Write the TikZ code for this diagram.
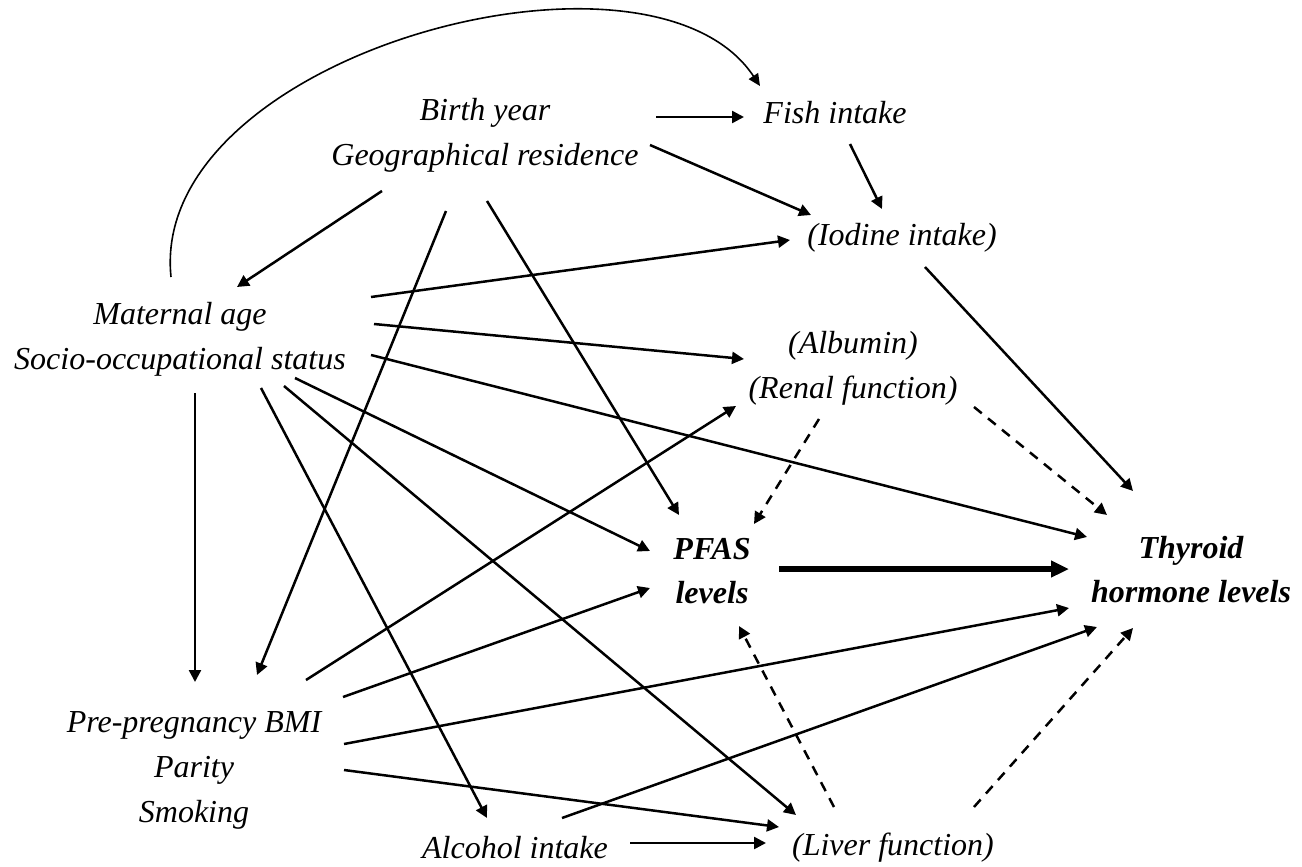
\documentclass[tikz,border=0pt]{standalone}
\usepackage{fontspec}
\setmainfont{Liberation Serif}
\usetikzlibrary{arrows.meta,calc}
\begin{document}
\begin{tikzpicture}[x=0.5pt,y=-0.5pt,
  lab/.style={align=center,inner sep=0pt,font=\fontsize{16}{22.5}\selectfont\itshape},
  blab/.style={align=center,inner sep=0pt,font=\fontsize{16}{22}\selectfont\bfseries\itshape},
  arr/.style={line width=1.25pt,-{Triangle[length=6pt,width=6pt]}},
  darr/.style={arr,dash pattern=on 5pt off 4pt},
  bigarr/.style={line width=3.2pt,-{Triangle[length=9pt,width=8pt]}},
  curvearr/.style={line width=0.8pt,-{Triangle[length=6pt,width=5.5pt]}}
]
\useasboundingbox (0,0) rectangle (1302,867);
% nodes
\node[lab] (by) at (485,135.5) {Birth year\\Geographical residence};
\node[lab] (fish) at (835,113) {Fish intake};
\node[lab] (iod) at (902,238) {(Iodine intake)};
\node[lab] (mat) at (180,339.5) {Maternal age\\Socio-occupational status};
\node[lab] (alb) at (853,368.5) {(Albumin)\\(Renal function)};
\node[blab] (pfas) at (712,571.5) {PFAS\\levels};
\node[blab] (thy) at (1191,570) {Thyroid\\hormone levels};
\node[lab] (bmi) at (194,770) {Pre-pregnancy BMI\\Parity\\Smoking};
\node[lab] (alc) at (515,848) {Alcohol intake};
\node[lab] (liv) at (893,848) {(Liver function)};
% curved arrow
\draw[curvearr] ($(mat)+(-9,-62.5)$) .. controls (148,55) and (650,-80) .. ($(fish)+(-75,-27)$);
% solid arrows
\draw[arr] ($(by)+(171,-18.5)$) -- ($(fish)+(-91,4)$);
\draw[arr] ($(by)+(165,9.5)$) -- ($(iod)+(-91,-23)$);
\draw[arr] ($(fish)+(15,31)$) -- ($(iod)+(-20,-29)$);
\draw[arr] ($(by)+(-103,55.5)$) -- ($(mat)+(57,-52.5)$);
\draw[arr] ($(by)+(-39,75.5)$) -- ($(bmi)+(63,-95)$);
\draw[arr] ($(by)+(2,65.5)$) -- ($(pfas)+(-33,-56.5)$);
\draw[arr] ($(mat)+(191,-42.5)$) -- ($(iod)+(-112,2)$);
\draw[arr] ($(mat)+(194,-15.5)$) -- ($(alb)+(-109,-9.5)$);
\draw[arr] ($(mat)+(191,15.5)$) -- ($(thy)+(-104,-33)$);
\draw[arr] ($(mat)+(15,53.5)$) -- ($(bmi)+(1,-88)$);
\draw[arr] ($(mat)+(81,48.5)$) -- ($(alc)+(-28,-30)$);
\draw[arr] ($(mat)+(104,46.5)$) -- ($(liv)+(-97,-33)$);
\draw[arr] ($(mat)+(115,38.5)$) -- ($(pfas)+(-62,-20.5)$);
\draw[arr] ($(bmi)+(112,-90)$) -- ($(alb)+(-117,37.5)$);
\draw[arr] ($(bmi)+(149,-73)$) -- ($(pfas)+(-62,16.5)$);
\draw[arr] ($(bmi)+(150,-26)$) -- ($(thy)+(-122,38)$);
\draw[arr] ($(bmi)+(150,0)$) -- ($(liv)+(-114,-21)$);
\draw[arr] ($(alc)+(47,-30)$) -- ($(thy)+(-94,57)$);
\draw[arr] ($(alc)+(115,-5)$) -- ($(liv)+(-127,-5)$);
\draw[arr] ($(iod)+(23,29)$) -- ($(thy)+(-58,-79)$);
\draw[bigarr] ($(pfas)+(67,-2.5)$) -- ($(thy)+(-122,-1)$);
% dashed arrows
\draw[darr] ($(alb)+(-34,50.5)$) -- ($(pfas)+(42,-47.5)$);
\draw[darr] ($(alb)+(121,38.5)$) -- ($(thy)+(-84,-55)$);
\draw[darr] ($(liv)+(-59,-41)$) -- ($(pfas)+(27,54.5)$);
\draw[darr] ($(liv)+(81,-41)$) -- ($(thy)+(-58,58)$);
\end{tikzpicture}
\end{document}
